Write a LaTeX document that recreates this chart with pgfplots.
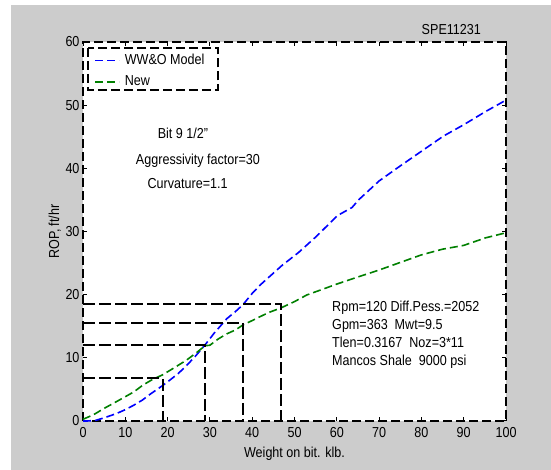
\documentclass[border=0pt]{standalone}
\usepackage{pgfplots}
\pgfplotsset{compat=1.18}
\usepackage{fontspec}
\setmainfont{Liberation Sans}[FakeStretch=0.87]

\definecolor{panelgray}{RGB}{204,204,204}
\definecolor{wwoblue}{RGB}{0,0,255}
\definecolor{newgreen}{RGB}{0,128,0}

\pgfplotstableread{
x     rop
0     0.0
1     0.0
3     0.1
5     0.5
8     1.2
10    1.8
12    2.5
14    3.3
16    4.3
18.8  5.6
20    6.2
22.5  7.5
24.5  8.8
26.5  10.2
28.8  12.0
31    13.9
34    16.2
36    17.3
37.8  18.4
40    20.2
42    21.6
45    23.4
47    24.6
51    26.7
55.3  29.3
60.1  32.5
63.6  33.8
65.3  35.1
70    38.0
74.4  40.1
80    42.7
85.2  45.1
90    46.9
95.2  49.0
100   50.8
}\wwomodel

\pgfplotstableread{
x     rop
0     0.27
2.5   1.0
5     2.0
8     3.1
10    3.85
12    4.6
14.2  5.7
16.5  6.6
18.8  7.3
21.5  8.4
24.5  9.65
27    10.9
28.8  11.9
30    12.0
32    13.0
34    13.8
36    14.4
37.8  15.2
40    15.9
41.8  16.5
44    17.2
46.8  17.9
50    18.9
52.9  19.95
56    20.7
60.1  21.7
65    22.8
70    23.9
75    25.1
80    26.3
85    27.2
90    27.8
95.2  29.0
100   29.8
}\newmodel

\tikzset{
  framedash/.style={black, line width=2bp, dash pattern=on 9bp off 4bp},
  readoff/.style={black, line width=2bp, dash pattern=on 12bp off 4bp},
  curve/.style={line width=1.6bp, dash pattern=on 8bp off 4bp},
}

\begin{document}
\begin{tikzpicture}[x=1bp,y=1bp]
\useasboundingbox (0,0) rectangle (551,470);
\fill[white] (0,0) rectangle (551,470);
\fill[panelgray] (11,0) rectangle (551,465);
\begin{axis}[
  at={(83bp,49bp)}, anchor=south west,
  scale only axis, width=423bp, height=379bp,
  xmin=0, xmax=100, ymin=0, ymax=60,
  xtick={0,10,...,100}, ytick={0,10,...,60},
  tick align=inside, major tick length=4bp,
  tick style={black, line width=1bp, solid},
  axis line style={framedash},
  axis background/.style={fill=white},
  font=\fontsize{14.5}{16}\selectfont,
  /pgf/number format/assume math mode=true,
  xticklabel style={yshift=-3bp},
  xlabel={Weight on bit. klb.}, ylabel={ROP, ft/hr},
  xlabel style={at={(axis description cs:0.5,-0.0868)}, anchor=center},
  ylabel style={at={(axis description cs:-0.0664,0.5)}, anchor=center},
  clip=false,
  legend image code/.code={%
    \draw[mark repeat=2, mark phase=2, #1]
      plot coordinates {(0bp,0bp) (12bp,0bp) (24bp,0bp)};},
  legend cell align=left,
  legend style={at={(axis description cs:0.026,0.974)}, anchor=north west,
    draw=none, fill=none,
    font=\fontsize{14.5}{16}\selectfont,
    inner xsep=0bp, inner ysep=0bp, row sep=4.6bp, column sep=3bp,
    nodes={inner sep=2bp, text height=10bp, text depth=3bp}},
]
% model curves
\addplot[wwoblue, curve] table[x=x, y=rop] {\wwomodel};
\addlegendentry{WW\&O Model}
\addplot[newgreen, curve] table[x=x, y=rop] {\newmodel};
\addlegendentry{New}

% read-off lines
\addplot[forget plot, readoff] coordinates {(0,6.76) (18.8,6.76) (18.8,0)};
\addplot[forget plot, readoff] coordinates {(0,12.03) (28.8,12.03) (28.8,0)};
\addplot[forget plot, readoff] coordinates {(0,15.56) (37.8,15.56) (37.8,0)};
\addplot[forget plot, readoff] coordinates {(0,18.47) (46.8,18.47) (46.8,0)};

% legend frame
\draw[framedash] (axis description cs:0.0125,0.9844) rectangle (axis description cs:0.3184,0.8723);

% annotations
\begin{scope}[every node/.style={inner sep=0pt, font=\fontsize{14.5}{16}\selectfont}]
\node[anchor=base] at (axis cs:87.07,61.17) {SPE11231};
\node[anchor=base west] at (axis cs:17.64,44.7) {Bit 9 1/2"};
\node[anchor=base west] at (axis cs:12.48,40.65) {Aggressivity factor=30};
\node[anchor=base west] at (axis cs:15.22,36.87) {Curvature=1.1};
\node[anchor=base west] at (axis cs:58.87,17.35) {Rpm=120 Diff.Pess.=2052};
\node[anchor=base west] at (axis cs:58.87,14.52) {Gpm=363\ \ Mwt=9.5};
\node[anchor=base west] at (axis cs:58.87,11.67) {Tlen=0.3167\ \ Noz=3*11};
\node[anchor=base west] at (axis cs:58.87,8.83) {Mancos Shale\ \ 9000 psi};
\end{scope}
\end{axis}
\end{tikzpicture}
\end{document}
